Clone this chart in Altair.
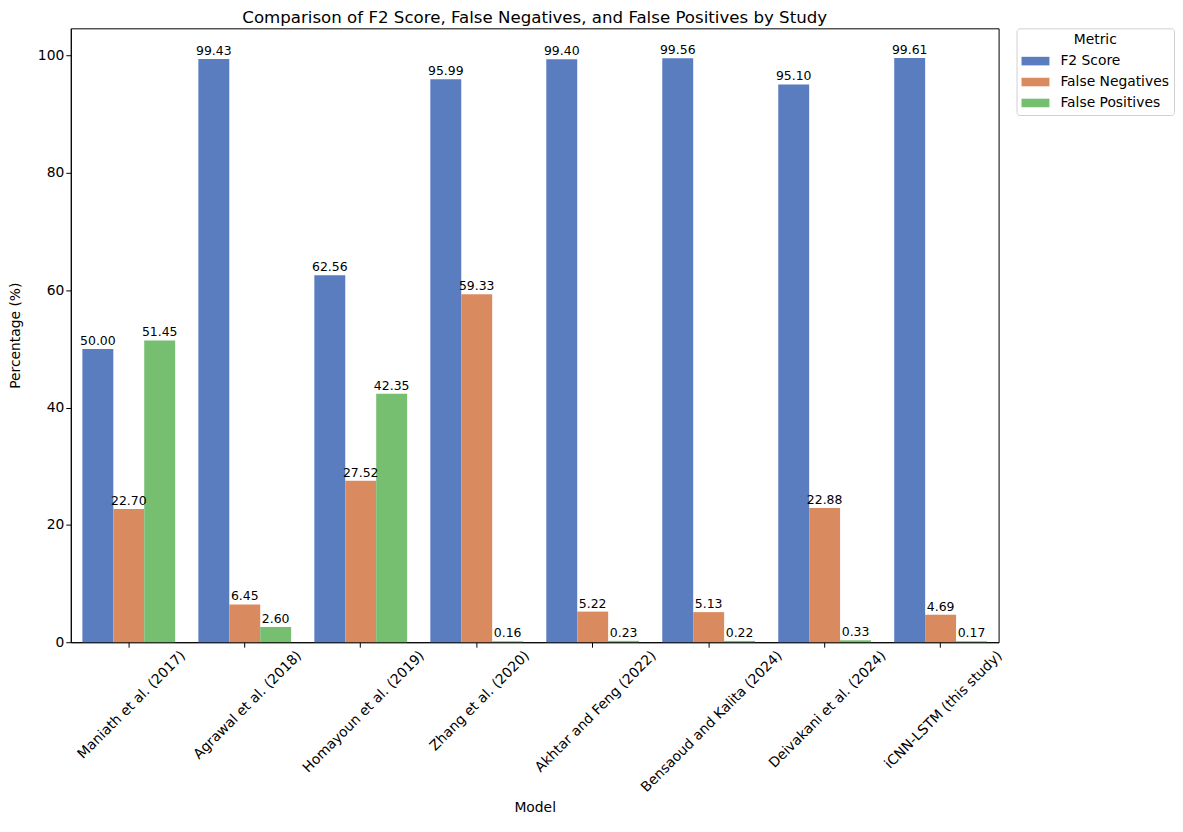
import altair as alt
import pandas as pd

models = [
    "Maniath et al. (2017)",
    "Agrawal et al. (2018)",
    "Homayoun et al. (2019)",
    "Zhang et al. (2020)",
    "Akhtar and Feng (2022)",
    "Bensaoud and Kalita (2024)",
    "Deivakani et al. (2024)",
    "iCNN-LSTM (this study)",
]
metrics = ["F2 Score", "False Negatives", "False Positives"]
f2_score = [50.00, 99.43, 62.56, 95.99, 99.40, 99.56, 95.10, 99.61]
false_neg = [22.70, 6.45, 27.52, 59.33, 5.22, 5.13, 22.88, 4.69]
false_pos = [51.45, 2.60, 42.35, 0.16, 0.23, 0.22, 0.33, 0.17]
colors = ["#597dbf", "#d98b5f", "#76bf71"]

rows = []
for metric, vals in zip(metrics, [f2_score, false_neg, false_pos]):
    for m, v in zip(models, vals):
        rows.append({"Model": m, "Metric": metric, "Value": v})
df = pd.DataFrame(rows)

FONT = "DejaVu Sans"
LABEL_PX = 13.9

# approximate DejaVu Sans advance widths (units per 2048 em) for label centring
W = {" ": 651, "a": 1255, "e": 1260, "t": 803, "l": 569, ".": 651, "(": 799, ")": 799,
     "M": 1767, "n": 1298, "i": 569, "h": 1298, "A": 1401, "g": 1300, "r": 842,
     "w": 1675, "H": 1540, "o": 1253, "m": 1995, "y": 1212, "u": 1298, "Z": 1405,
     "k": 1186, "F": 1177, "B": 1405, "s": 1067, "d": 1300, "K": 1343, "D": 1577,
     "v": 1212, "C": 1430, "N": 1532, "L": 1141, "S": 1300, "T": 1251, "-": 739,
     "c": 1126, "f": 721}


def text_w(s):
    return sum(W.get(ch, 1303 if ch.isdigit() else 1200) for ch in s) / 2048 * LABEL_PX


conds = [
    {"test": f"datum.value === '{m}'", "value": round(text_w(m) * 0.3536 + 3, 1)}
    for m in models
]

x_enc = alt.X(
    "Model:N",
    sort=models,
    title="Model",
    scale=alt.Scale(paddingInner=0.2, paddingOuter=0.1),
    axis=alt.Axis(
        labelAngle=-45,
        labelAlign="right",
        labelBaseline="middle",
        labelOffset={"condition": conds, "value": 50},
        labelPadding=6,
        labelLimit=400,
        titlePadding=6,
    ),
)
xoff = alt.XOffset(
    "Metric:N", sort=metrics, scale=alt.Scale(paddingInner=0, paddingOuter=0)
)
y_enc = alt.Y(
    "Value:Q",
    title="Percentage (%)",
    scale=alt.Scale(domain=[0, 104.67], nice=False, zero=True),
    axis=alt.Axis(values=[0, 20, 40, 60, 80, 100], titlePadding=15),
)

symbol_path = "M-1.4,-0.43H1.4V0.43H-1.4Z"

bars = alt.Chart(df).mark_bar().encode(
    x=x_enc,
    xOffset=xoff,
    y=y_enc,
    color=alt.Color(
        "Metric:N",
        sort=metrics,
        scale=alt.Scale(domain=metrics, range=colors),
        legend=alt.Legend(title="Metric"),
    ),
)

labels = alt.Chart(df).mark_text(
    baseline="bottom", dy=-1, fontSize=12.5, font=FONT, color="black"
).encode(
    x=x_enc,
    xOffset=xoff,
    y=y_enc,
    text=alt.Text("Value:Q", format=".2f"),
)

chart = (
    alt.layer(bars, labels)
    .properties(
        width=931,
        height=616,
        padding={"left": 0, "top": 0, "right": 0, "bottom": 0},
        title=alt.TitleParams(
            "Comparison of F2 Score, False Negatives, and False Positives by Study",
            fontSize=16.7,
            fontWeight="normal",
            font=FONT,
            anchor="middle",
            offset=1,
            color="black",
        ),
    )
    .configure(font=FONT)
    .configure_view(stroke="black", strokeWidth=1)
    .configure_axis(
        grid=False,
        domainColor="black",
        tickColor="black",
        tickSize=5,
        labelColor="black",
        titleColor="black",
        labelFont=FONT,
        titleFont=FONT,
        labelFontSize=LABEL_PX,
        titleFontSize=LABEL_PX,
        titleFontWeight="normal",
    )
    .configure_legend(
        orient="right",
        offset=18,
        strokeColor="#d0d0d0",
        fillColor="white",
        cornerRadius=3,
        padding=5,
        symbolOffset=4,
        titleAnchor="middle",
        titleFont=FONT,
        labelFont=FONT,
        titleFontSize=LABEL_PX,
        labelFontSize=LABEL_PX,
        titleFontWeight="normal",
        titleColor="black",
        labelColor="black",
        symbolType=symbol_path,
        symbolSize=400,
        symbolStrokeWidth=0,
        labelOffset=15,
        rowPadding=4,
        titlePadding=4,
    )
)

chart.save("out.html", embed_options={"renderer": "svg", "actions": False})
